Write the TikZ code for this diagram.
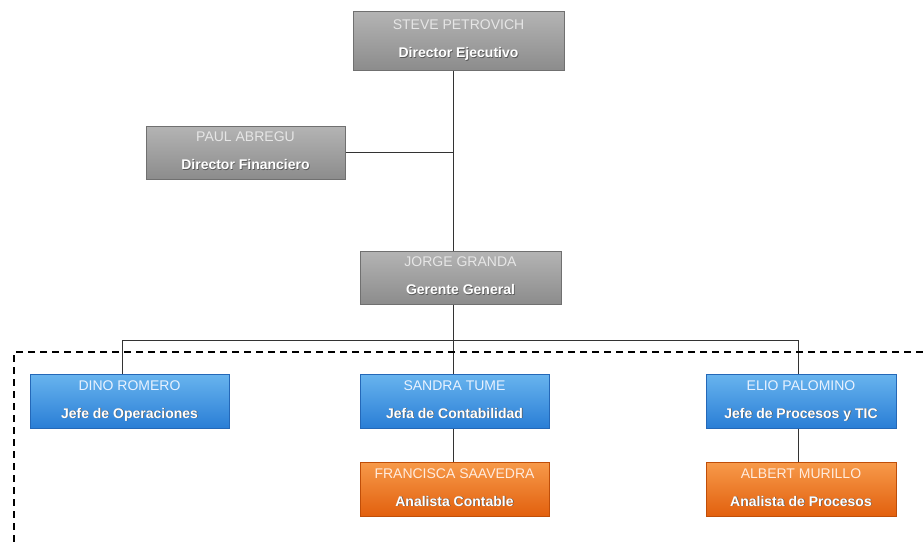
\documentclass[tikz,border=0pt]{standalone}
\usepackage{fontspec}
\setmainfont{Liberation Sans}
\definecolor{grayTop}{HTML}{B4B4B4}
\definecolor{grayBot}{HTML}{8C8C8C}
\definecolor{grayEdge}{HTML}{707070}
\definecolor{blueTop}{HTML}{68B4EE}
\definecolor{blueBot}{HTML}{2A7ED6}
\definecolor{blueEdge}{HTML}{2468B8}
\definecolor{orTop}{HTML}{F79A4A}
\definecolor{orBot}{HTML}{E2600E}
\definecolor{orEdge}{HTML}{C04E08}
\definecolor{nameGray}{HTML}{E6E6E6}
\definecolor{nameBlue}{HTML}{E8F2FF}
\definecolor{nameOr}{HTML}{FFEBDD}
% title with a soft dark drop shadow
\newcommand{\shtext}[1]{\leavevmode\rlap{\raisebox{-0.9pt}{\hspace{0.7pt}\color{black!65}#1}}#1}
% two-line card body: person name, then bold role
\newcommand{\cardtext}[3]{\strut\textcolor{#1}{#2}\\[13pt]\strut\shtext{\textbf{#3}}}
\begin{document}
\begin{tikzpicture}[x=1pt,y=-1pt,
  card/.style={rectangle, draw, line width=1pt, inner sep=0pt, align=center,
    font=\fontsize{14}{15}\selectfont, text=white},
  graycard/.style={card, draw=grayEdge, top color=grayTop, bottom color=grayBot},
  bluecard/.style={card, draw=blueEdge, top color=blueTop, bottom color=blueBot},
  orcard/.style={card, draw=orEdge, top color=orTop, bottom color=orBot},
  link/.style={draw=black!80, line width=0.8pt},
  zone/.style={draw=black, line width=1.3pt, dash pattern=on 7pt off 5pt}]
\useasboundingbox (0,0) rectangle (923,542);

% executive level
\node[graycard, minimum width=211pt, minimum height=59pt] (steve) at (458.5,40.5)
  {\cardtext{nameGray}{STEVE PETROVICH}{Director Ejecutivo}};
\node[graycard, minimum width=199pt, minimum height=53pt] (paul) at (245.5,152.5)
  {\cardtext{nameGray}{PAUL ABREGU}{Director Financiero}};
\node[graycard, minimum width=201pt, minimum height=53pt] (jorge) at (460.5,277.5)
  {\cardtext{nameGray}{JORGE GRANDA}{Gerente General}};

% department heads
\node[bluecard, minimum width=199pt, minimum height=54pt] (dino) at (129.5,401)
  {\cardtext{nameBlue}{DINO ROMERO}{Jefe de Operaciones}};
\node[bluecard, minimum width=189pt, minimum height=54pt] (sandra) at (454.5,401)
  {\cardtext{nameBlue}{SANDRA TUME}{Jefa de Contabilidad}};
\node[bluecard, minimum width=190pt, minimum height=54pt] (elio) at (801,401)
  {\cardtext{nameBlue}{ELIO PALOMINO}{Jefe de Procesos y TIC}};

% analysts
\node[orcard, minimum width=189pt, minimum height=54pt] (fran) at (454.5,489)
  {\cardtext{nameOr}{FRANCISCA SAAVEDRA}{Analista Contable}};
\node[orcard, minimum width=190pt, minimum height=54pt] (albert) at (801,489)
  {\cardtext{nameOr}{ALBERT MURILLO}{Analista de Procesos}};

% reporting lines
\coordinate (spine) at (453,340);
\path[link] (steve.south -| spine) -- (jorge.north -| spine);
\path[link] (paul.east) -- (paul.east -| spine);
\path[link] (jorge.south -| spine) -- (spine);
\path[link] (dino.north -| 122,0) |- (spine) -| (elio.north -| 798,0);
\path[link] (spine) -- (sandra.north -| spine);
\path[link] (sandra.south -| spine) -- (fran.north -| spine);
\path[link] (elio.south -| 798,0) -- (albert.north -| 798,0);

% operational area boundary
\coordinate (zoneTL) at (14,352);
\coordinate (zoneR) at (923,352);
\coordinate (zoneB) at (14,542);
\path[zone] (zoneR) -- (zoneTL) -- (zoneB);
\end{tikzpicture}
\end{document}
